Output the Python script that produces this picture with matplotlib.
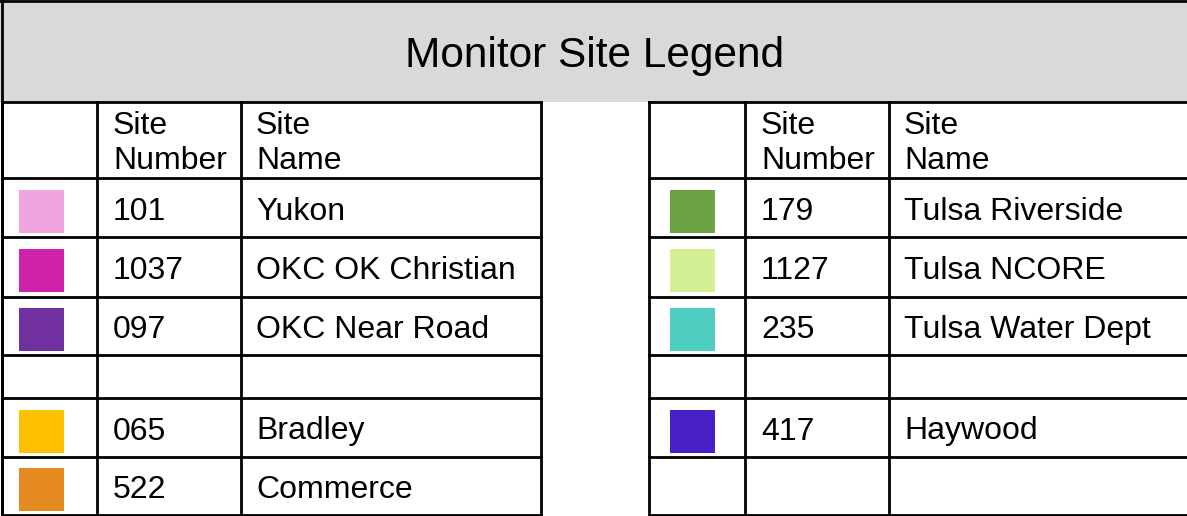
import matplotlib.pyplot as plt
from matplotlib.patches import Rectangle

# legend contents, top to bottom (None = blank spacer row)
left_numbers = ['101', '1037', '097', None, '065', '522']
left_names = ['Yukon', 'OKC OK Christian', 'OKC Near Road', None, 'Bradley', 'Commerce']
left_colors = ['#F0A5E0', '#CF22AB', '#7030A0', None, '#FFC000', '#E58A20']

right_numbers = ['179', '1127', '235', None, '417', None]
right_names = ['Tulsa Riverside', 'Tulsa NCORE', 'Tulsa Water Dept', None, 'Haywood', None]
right_colors = ['#6CA342', '#D5EF94', '#4ECDC0', None, '#4721C7', None]

title = 'Monitor Site Legend'
header_number = ['Site', 'Number']
header_name = ['Site', 'Name']

# layout in pixels
W, H = 1187, 516
row_edges = [102, 178, 237, 297, 355, 398, 457, 515]
left_cols = [2, 97, 241, 541]
right_cols = [649, 745, 889, 1187]

plt.rcParams['font.family'] = ['Liberation Sans', 'DejaVu Sans']
FS = 23

fig = plt.figure(figsize=(W / 100, H / 100), dpi=100)
ax = fig.add_axes([0, 0, 1, 1])
ax.set_xlim(0, W)
ax.set_ylim(H, 0)
ax.axis('off')

lw = 2.0
# title bar
ax.add_patch(Rectangle((0, 0), W, row_edges[0], facecolor='#D9D9D9', edgecolor='none'))
ax.plot([0, W], [1, 1], color='black', lw=lw)
ax.text(W / 2 + 1, 67, title, fontsize=30.5, ha='center', va='baseline')


def draw_table(cols, numbers, names, colors, swatch_cx):
    x0, x1 = cols[0], cols[-1]
    # horizontal lines
    for y in row_edges:
        ax.plot([x0, x1], [y, y], color='black', lw=lw, solid_capstyle='projecting')
    # vertical lines
    for x in cols:
        if x >= W:
            continue
        ax.plot([x, x], [row_edges[0], row_edges[-1]], color='black', lw=lw, solid_capstyle='projecting')
    # header
    for k, (a, b) in enumerate(zip(header_number, header_name)):
        yb = 134 + 35 * k
        ax.text(cols[1] + 16, yb, a, fontsize=FS, ha='left', va='baseline')
        ax.text(cols[2] + 15, yb, b, fontsize=FS, ha='left', va='baseline')
    # rows
    for i, (num, name, c) in enumerate(zip(numbers, names, colors)):
        top, bot = row_edges[i + 1], row_edges[i + 2]
        yc = (top + bot) / 2
        if c is not None:
            ax.add_patch(Rectangle((swatch_cx - 22.5, yc + 3.5 - 21.5), 45, 43,
                                   facecolor=c, edgecolor='none'))
        if num is not None:
            ax.text(cols[1] + 16, yc + 12, num, fontsize=FS, ha='left', va='baseline')
        if name is not None:
            ax.text(cols[2] + 15, yc + 12, name, fontsize=FS, ha='left', va='baseline')


draw_table(left_cols, left_numbers, left_names, left_colors, 41)
draw_table(right_cols, right_numbers, right_names, right_colors, 692.5)

# outer left border of the whole legend
ax.plot([2, 2], [0, row_edges[-1]], color='black', lw=lw)

fig.savefig('out.png', dpi=100)
